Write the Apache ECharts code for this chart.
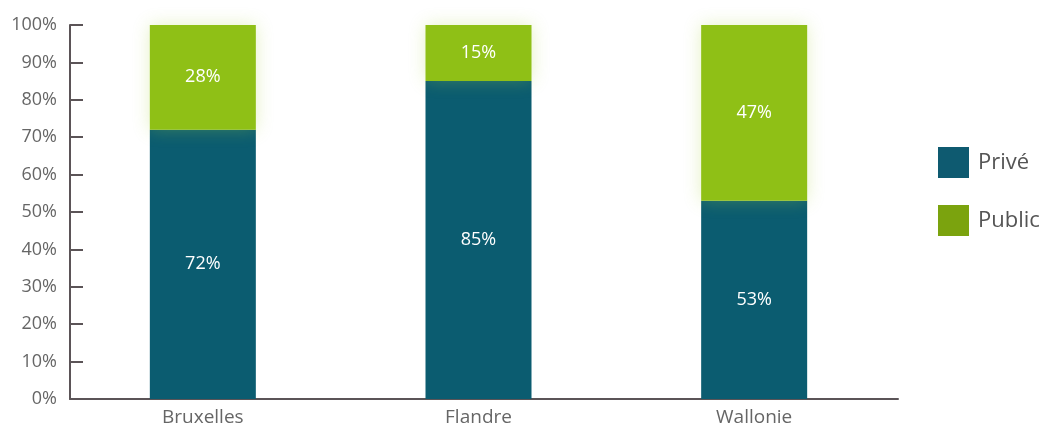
<!DOCTYPE html>
<html>
<head>
<meta charset="utf-8">
<script src="https://cdn.jsdelivr.net/npm/echarts@6/dist/echarts.min.js"></script>
<style>
  html, body { margin: 0; padding: 0; background: #ffffff; }
  #chart { width: 1046px; height: 428px; }
</style>
</head>
<body>
<div id="chart"></div>
<script>
// Répartition privé / public par région (en %)
const regions = ['Bruxelles', 'Flandre', 'Wallonie'];
const prive = [72, 85, 53];
const publicShare = [28, 15, 47];
const seriesNames = ['Privé', 'Public'];

const TEAL = '#0b5c70';
const GREEN = '#8fc016';
const AXIS = '#5b5457';
const TEXT = '#666666';
const FONT = '"Open Sans", "DejaVu Sans", sans-serif';

const chart = echarts.init(document.getElementById('chart'), null, { renderer: 'canvas' });

const pct = v => v + '%';

chart.setOption({
  animation: false,
  backgroundColor: '#ffffff',
  grid: [
    // axis frame
    { left: 70, right: 148, top: 25, bottom: 29 },
    // bars
    { left: 65, right: 154, top: 25, bottom: 29 }
  ],
  legend: {
    orient: 'vertical',
    left: 938,
    top: 147,
    padding: 0,
    itemWidth: 31,
    itemHeight: 31,
    itemGap: 27,
    icon: 'rect',
    textStyle: { fontFamily: FONT, fontSize: 22, color: '#555555', padding: [0, 0, 0, 4] },
    data: [
      { name: seriesNames[0], itemStyle: { color: '#0e5a70' } },
      { name: seriesNames[1], itemStyle: { color: '#7ba30e' } }
    ]
  },
  xAxis: [
    {
      type: 'category', gridIndex: 0, data: regions,
      axisLine: { lineStyle: { color: AXIS, width: 2 } },
      axisTick: { show: false },
      axisLabel: { show: false }
    },
    {
      type: 'category', gridIndex: 1, data: regions,
      axisLine: { show: false },
      axisTick: { show: false },
      axisLabel: { fontFamily: FONT, fontSize: 19, color: TEXT, margin: 9 }
    }
  ],
  yAxis: [
    {
      type: 'value', gridIndex: 0, min: 0, max: 100, interval: 10,
      axisLine: { show: true, lineStyle: { color: AXIS, width: 2 } },
      axisTick: { show: true, inside: true, length: 13, lineStyle: { color: AXIS, width: 2 } },
      axisLabel: { formatter: pct, fontFamily: FONT, fontSize: 18, color: TEXT, margin: 13 },
      splitLine: { show: false }
    },
    {
      type: 'value', gridIndex: 1, min: 0, max: 100, interval: 10,
      show: false
    }
  ],
  series: [
    {
      name: seriesNames[0], type: 'bar', stack: 'total',
      xAxisIndex: 1, yAxisIndex: 1,
      data: prive, barWidth: 106,
      itemStyle: { color: TEAL },
      label: {
        show: true, position: 'inside', formatter: p => pct(p.value),
        color: '#ffffff', fontFamily: FONT, fontSize: 18
      }
    },
    {
      name: seriesNames[1], type: 'bar', stack: 'total',
      xAxisIndex: 1, yAxisIndex: 1,
      data: publicShare, barWidth: 106,
      itemStyle: {
        color: GREEN,
        shadowColor: 'rgba(170, 210, 60, 0.3)',
        shadowBlur: 16
      },
      label: {
        show: true, position: 'inside', formatter: p => pct(p.value),
        color: '#ffffff', fontFamily: FONT, fontSize: 18
      }
    }
  ]
});
</script>
</body>
</html>
